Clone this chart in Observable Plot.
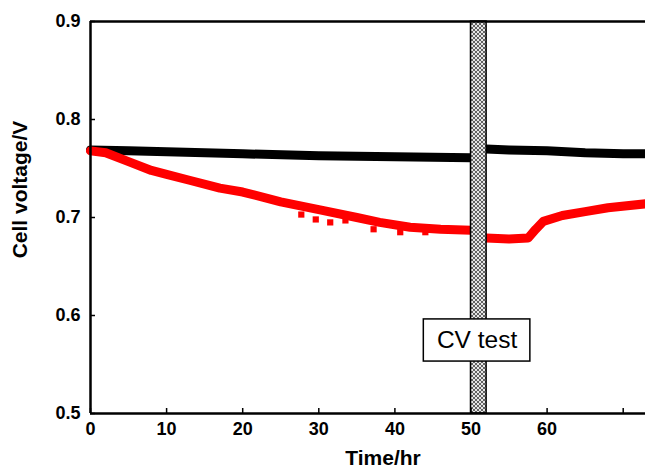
<!DOCTYPE html>
<html><head><meta charset="utf-8">
<script src="https://cdn.jsdelivr.net/npm/d3@7"></script>
<script src="https://cdn.jsdelivr.net/npm/@observablehq/plot@0.6"></script>
<style>
body{margin:0;background:#fff;}
#chart svg{display:block;}
</style></head><body><div id="chart"></div>
<script>
// Red series (Time/hr, Cell voltage/V)
const redTime    = [0, 2, 5, 8, 10, 13, 17, 20, 25, 30, 35, 38, 42, 46, 50];
const redVoltage = [0.768, 0.766, 0.757, 0.748, 0.744, 0.738, 0.730, 0.726, 0.716, 0.708, 0.700, 0.695, 0.690, 0.688, 0.687];
const redTime2    = [52, 55, 57.5, 58.5, 59.5, 62, 65, 68, 73];
const redVoltage2 = [0.679, 0.678, 0.679, 0.688, 0.696, 0.702, 0.706, 0.710, 0.714];
// scattered red points below the band
const redOutTime    = [27.7, 29.6, 31.5, 33.5, 37.2, 40.7, 44];
const redOutVoltage = [0.703, 0.698, 0.695, 0.697, 0.688, 0.685, 0.685];
// Black series
const blackTime    = [0, 5, 10, 20, 30, 40, 50];
const blackVoltage = [0.769, 0.768, 0.767, 0.765, 0.763, 0.762, 0.761];
const blackTime2    = [52, 55, 60, 65, 70, 73];
const blackVoltage2 = [0.770, 0.769, 0.768, 0.766, 0.765, 0.765];
// CV test window
const cvStart = [50];
const cvEnd = [52.05];
const cvLabel = ["CV test"];
const cvBoxX = [43.8, 57.8];
const cvBoxY = [0.553, 0.596];
// axes
const xDomain = [0, 72.93];
const yDomain = [0.5, 0.9];
const xTicks = [0, 10, 20, 30, 40, 50, 60, 70];
const xTickLabels = ["0", "10", "20", "30", "40", "50", "60", ""];
const yTicks = [0.5, 0.6, 0.7, 0.8, 0.9];
const yTickLabels = ["0.5", "0.6", "0.7", "0.8", "0.9"];
const xTitle = "Time/hr";
const yTitle = "Cell voltage/V";

const toPts = (t, v) => t.map((d, i) => ({t: d, v: v[i]}));
const red1 = toPts(redTime, redVoltage);
const red2 = toPts(redTime2, redVoltage2);
const redOut = toPts(redOutTime, redOutVoltage);
const black1 = toPts(blackTime, blackVoltage);
const black2 = toPts(blackTime2, blackVoltage2);
const cv = cvStart.map((s, i) => ({s, e: cvEnd[i]}));
const box = [{x1: cvBoxX[0], x2: cvBoxX[1], y1: cvBoxY[0], y2: cvBoxY[1], label: cvLabel[0]}];

const font = "'Liberation Sans', Arial, sans-serif";

const svg = Plot.plot({
  width: 645,
  height: 468,
  marginLeft: 90,
  marginRight: 0,
  marginTop: 21,
  marginBottom: 55,
  style: {fontFamily: font, background: "#fff", overflow: "visible"},
  x: {domain: xDomain},
  y: {domain: yDomain},
  marks: [
    Plot.line(black1, {x: "t", y: "v", stroke: "#000", strokeWidth: 9}),
    Plot.line(black2, {x: "t", y: "v", stroke: "#000", strokeWidth: 9}),
    Plot.line(red1, {x: "t", y: "v", stroke: "#ff0000", strokeWidth: 9}),
    Plot.line(red2, {x: "t", y: "v", stroke: "#ff0000", strokeWidth: 9}),
    Plot.dot(redOut, {x: "t", y: "v", symbol: "square", r: 3.5, fill: "#ff0000"}),
    Plot.rect(cv, {x1: "s", x2: "e", fill: "url(#hatch)", stroke: "#000", strokeWidth: 1.5}),
    Plot.rect(box, {x1: "x1", x2: "x2", y1: "y1", y2: "y2", fill: "#fff", stroke: "#000", strokeWidth: 1.5}),
    Plot.text(box, {x: d => (d.x1 + d.x2) / 2, y: d => (d.y1 + d.y2) / 2, text: "label", fontSize: 24.5, fill: "#000"}),
    Plot.ruleX([xDomain[0]], {stroke: "#000", strokeWidth: 2.5}),
    Plot.ruleY(yDomain, {stroke: "#000", strokeWidth: 2.5}),
    Plot.axisX({ticks: xTicks, tickFormat: d => xTickLabels[xTicks.indexOf(d)], tickSize: -5, tickPadding: 14, strokeWidth: 1.5, fontSize: 18, fontWeight: "bold", label: null}),
    Plot.axisY({ticks: yTicks, tickFormat: d => yTickLabels[yTicks.findIndex(t => Math.abs(t - d) < 1e-9)], tickSize: -5, tickPadding: 15, strokeWidth: 1.5, fontSize: 18, fontWeight: "bold", label: null}),
    Plot.text([xTitle], {frameAnchor: "bottom", text: d => d, textAnchor: "middle", lineAnchor: "middle", dy: 45, dx: 15, fontSize: 21, fontWeight: "bold", fill: "#000"}),
    Plot.text([yTitle], {frameAnchor: "left", text: d => d, textAnchor: "middle", lineAnchor: "middle", dx: -70, dy: -28, rotate: -90, fontSize: 21, fontWeight: "bold", fill: "#000"})
  ]
});

const defs = d3.select(svg).insert("defs", ":first-child");
const pat = defs.append("pattern").attr("id", "hatch").attr("width", 4).attr("height", 4).attr("patternUnits", "userSpaceOnUse");
pat.append("rect").attr("width", 4).attr("height", 4).attr("fill", "#e6e6e6");
pat.append("path").attr("d", "M0,0L4,4M4,0L0,4").attr("stroke", "#555").attr("stroke-width", 0.9);

document.getElementById("chart").appendChild(svg);
</script>
</body></html>
